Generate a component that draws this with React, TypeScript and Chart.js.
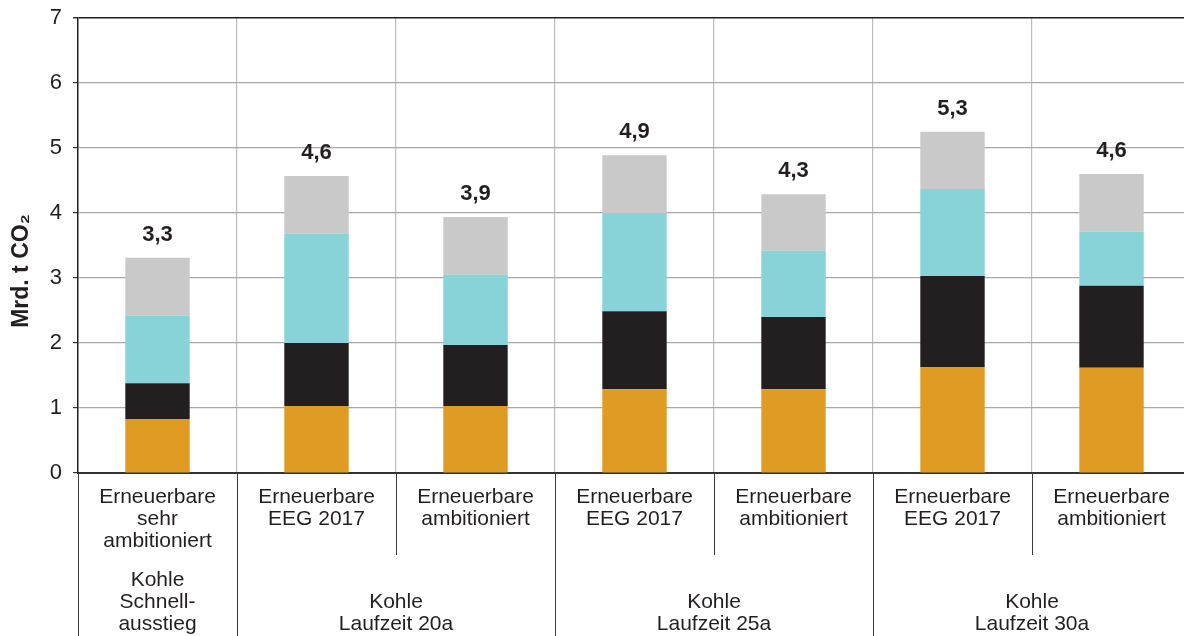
import React, { useEffect, useRef } from 'react';
import { Chart, registerables } from 'chart.js';

Chart.register(...registerables);

const categories: string[][] = [
  ['Erneuerbare', 'sehr', 'ambitioniert'],
  ['Erneuerbare', 'EEG 2017'],
  ['Erneuerbare', 'ambitioniert'],
  ['Erneuerbare', 'EEG 2017'],
  ['Erneuerbare', 'ambitioniert'],
  ['Erneuerbare', 'EEG 2017'],
  ['Erneuerbare', 'ambitioniert'],
];

const groupLabels: string[][] = [
  ['Kohle', 'Schnell-', 'ausstieg'],
  ['Kohle', 'Laufzeit 20a'],
  ['Kohle', 'Laufzeit 25a'],
  ['Kohle', 'Laufzeit 30a'],
];
const groupSizes = [1, 2, 2, 2];

const seriesOrange = [0.83, 1.03, 1.03, 1.29, 1.29, 1.63, 1.62];
const seriesBlack = [0.55, 0.97, 0.94, 1.2, 1.11, 1.4, 1.26];
const seriesCyan = [1.04, 1.68, 1.08, 1.51, 1.02, 1.34, 0.83];
const seriesGray = [0.89, 0.89, 0.89, 0.89, 0.87, 0.88, 0.89];
const totalLabels = ['3,3', '4,6', '3,9', '4,9', '4,3', '5,3', '4,6'];

const yMin = 0;
const yMax = 7;
const yTitle = 'Mrd. t CO\u2082';

const FONT = '"Liberation Sans", Arial, sans-serif';
const TEXT = '#231f20';

const overlayPlugin = {
  id: 'overlay',
  afterDatasetsDraw(chart: any) {
    const { ctx } = chart;
    const last = chart.getDatasetMeta(chart.data.datasets.length - 1);
    ctx.save();
    ctx.fillStyle = TEXT;
    ctx.font = `bold 22px ${FONT}`;
    ctx.textAlign = 'center';
    ctx.textBaseline = 'middle';
    last.data.forEach((bar: any, i: number) => {
      ctx.fillText(totalLabels[i], bar.x, bar.y - 23);
    });
    ctx.restore();
  },
  afterDraw(chart: any) {
    const { ctx, chartArea } = chart;
    const x = chart.scales.x;
    const H = chart.height;
    const n = categories.length;
    ctx.save();
    ctx.strokeStyle = '#3a3a3a';
    ctx.lineWidth = 1;
    const lx = Math.round(chartArea.left) + 0.5;
    ctx.beginPath();
    ctx.moveTo(lx, chartArea.bottom);
    ctx.lineTo(lx, H);
    ctx.stroke();
    const groupStarts = new Set<number>();
    let acc = 0;
    groupSizes.forEach((s) => {
      groupStarts.add(acc);
      acc += s;
    });
    for (let i = 1; i < n; i++) {
      const bx = Math.round((x.getPixelForValue(i - 1) + x.getPixelForValue(i)) / 2) + 0.5;
      const end = groupStarts.has(i) ? H : chartArea.bottom + 82;
      ctx.beginPath();
      ctx.moveTo(bx, chartArea.bottom);
      ctx.lineTo(bx, end);
      ctx.stroke();
    }
    ctx.fillStyle = TEXT;
    ctx.font = `21px ${FONT}`;
    ctx.textAlign = 'center';
    ctx.textBaseline = 'middle';
    let start = 0;
    groupSizes.forEach((s, g) => {
      const cx = (x.getPixelForValue(start) + x.getPixelForValue(start + s - 1)) / 2;
      const lines = groupLabels[g];
      lines.forEach((t, k) => {
        const y = H - 12 - (lines.length - 1 - k) * 22;
        ctx.fillText(t, cx, y);
      });
      start += s;
    });
    ctx.translate(22, 271);
    ctx.rotate(-Math.PI / 2);
    ctx.font = `bold 23px ${FONT}`;
    ctx.fillText(yTitle, 0, 0);
    ctx.restore();
  },
};

export default function App() {
  const ref = useRef<HTMLCanvasElement | null>(null);
  useEffect(() => {
    if (!ref.current) return;
    const common = { barPercentage: 0.405, categoryPercentage: 1, borderWidth: 0 };
    const chart = new Chart(ref.current, {
      type: 'bar',
      data: {
        labels: categories,
        datasets: [
          { label: 'Segment 1', data: seriesOrange, backgroundColor: '#e09b22', ...common },
          { label: 'Segment 2', data: seriesBlack, backgroundColor: '#231f20', ...common },
          { label: 'Segment 3', data: seriesCyan, backgroundColor: '#87d3d7', ...common },
          { label: 'Segment 4', data: seriesGray, backgroundColor: '#c8c9c8', ...common },
        ],
      },
      options: {
        animation: false,
        responsive: false,
        maintainAspectRatio: false,
        devicePixelRatio: 1,
        layout: { padding: { left: 0, right: 1, top: 18, bottom: 0 } },
        plugins: { legend: { display: false }, tooltip: { enabled: false } },
        scales: {
          x: {
            stacked: true,
            offset: true,
            afterFit: (s: any) => {
              s.height = 163;
            },
            grid: {
              display: true,
              offset: true,
              drawTicks: false,
              color: (c: any) => (c.index === 0 ? 'rgba(0,0,0,0)' : '#bdbdbd'),
              lineWidth: 1.2,
            },
            border: { display: true, color: '#333333', width: 2 },
            ticks: {
              autoSkip: false,
              maxRotation: 0,
              padding: 13,
              color: TEXT,
              font: { family: FONT, size: 21, lineHeight: 1.05 },
            },
          },
          y: {
            stacked: true,
            min: yMin,
            max: yMax,
            afterFit: (s: any) => {
              s.width = 78;
              s.paddingTop = 0;
              s.paddingBottom = 0;
            },
            grid: {
              color: (c: any) => (c.tick && c.tick.value === yMax ? '#231f20' : '#a8a8a8'),
              lineWidth: (c: any) => (c.tick && c.tick.value === yMax ? 1.5 : 1.2),
              tickColor: '#333333',
              tickLength: 5,
              drawTicks: true,
            },
            border: { display: true, color: '#231f20', width: 1.5 },
            ticks: {
              stepSize: 1,
              padding: 11,
              color: TEXT,
              font: { family: FONT, size: 22 },
            },
          },
        },
      },
      plugins: [overlayPlugin],
    });
    return () => chart.destroy();
  }, []);
  return (
    <div style={{ position: 'fixed', left: 0, top: 0, width: 1192, height: 636, background: '#fff' }}>
      <canvas ref={ref} width={1192} height={636} style={{ width: 1192, height: 636, display: 'block' }} />
    </div>
  );
}
